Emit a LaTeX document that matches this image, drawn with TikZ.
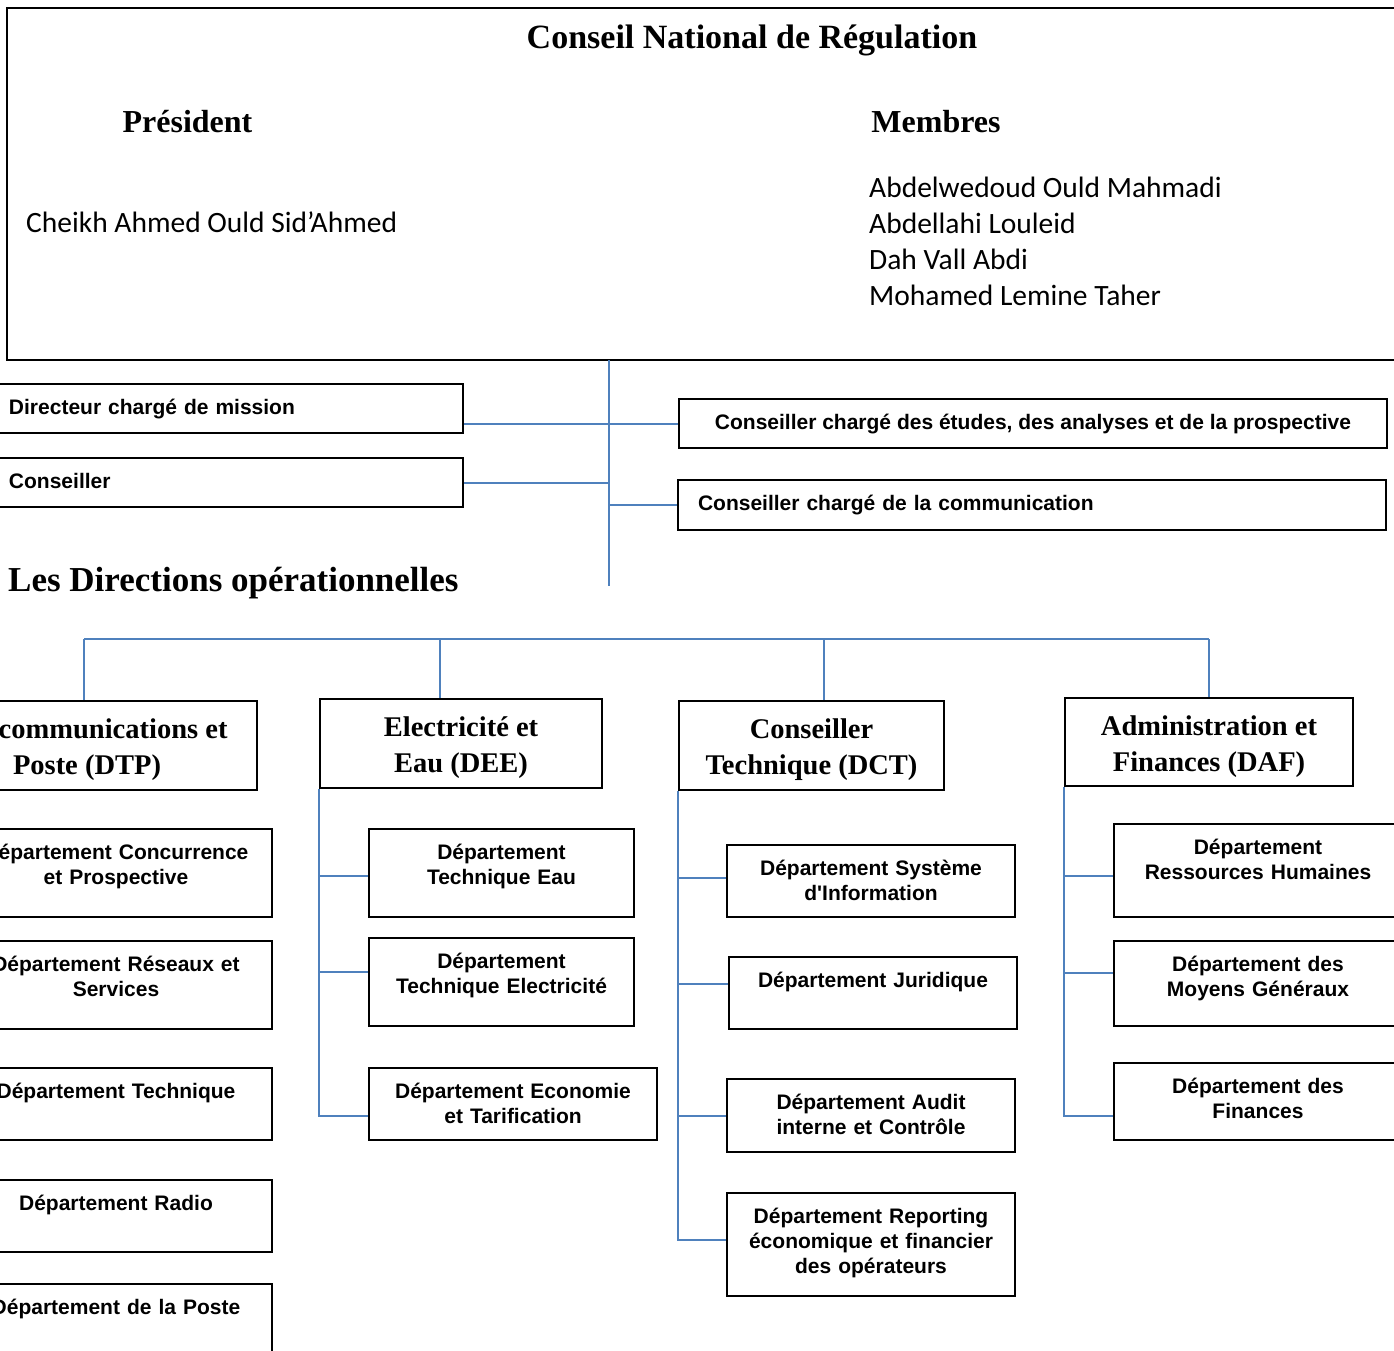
\documentclass[tikz,border=0pt]{standalone}
\usepackage{fontspec}
\setmainfont{Liberation Serif}
\newfontfamily\arialfont{Liberation Sans}
\newfontfamily\calibrifont{Carlito}
\definecolor{linkblue}{RGB}{79,129,189}

\begin{document}
\begin{tikzpicture}[x=1pt,y=-1pt,
  frame/.style={draw,line width=2pt,inner sep=0pt},
  link/.style={draw=linkblue,line width=2pt},
  head/.style={font=\bfseries\fontsize{34}{40}\selectfont,inner sep=0pt},
  names/.style={font=\calibrifont\fontsize{29.5}{36}\selectfont,inner sep=0pt,align=left},
  side/.style={draw,line width=2pt,font=\arialfont\bfseries\fontsize{21}{25}\selectfont,anchor=north west,minimum height=49pt,inner ysep=0pt,text height=15.5pt,text depth=4.5pt},
  dir/.style={draw,line width=2pt,font=\bfseries\fontsize{28.5}{36}\selectfont,align=center,inner sep=0pt,text height=62pt,text depth=4pt},
  dept/.style={draw,line width=2pt,font=\arialfont\bfseries\fontsize{21}{25}\selectfont,align=center,anchor=north west,inner xsep=4pt,inner ysep=7pt,text height=23pt}]
  \useasboundingbox (0,0) rectangle (1394,1350);
  \clip (0,0) rectangle (1394,1350);

  %Conseil
  \node[frame,anchor=north west,minimum width=1400pt,minimum height=352pt] (conseil) at (6,7) {};
  \node[head] (titre) at (752,40) {Conseil National de Régulation};
  \node[head,font=\bfseries\fontsize{32}{40}\selectfont] (pres) at (187.5,122) {Président};
  \node[head,font=\bfseries\fontsize{32}{40}\selectfont] (membres) at (936,122) {Membres};
  \node[names,anchor=west] (cheikh) at (26,222) {Cheikh Ahmed Ould Sid’Ahmed};
  \node[names,anchor=west] (liste) at (869,241) {Abdelwedoud Ould Mahmadi\\Abdellahi Louleid\\Dah Vall Abdi\\Mohamed Lemine Taher};

  %Conseillers
  \coordinate (haut) at (609,360);
  \coordinate (bas) at (609,586);
  \draw[link] (haut) -- (bas);
  \node[side,text width=441pt,inner xsep=13pt,align=left] (dcm) at (-5,383) {Directeur chargé de mission};
  \node[side,text width=441pt,inner xsep=13pt,align=left] (cons) at (-5,457) {Conseiller};
  \node[side,minimum width=708pt,align=center] (ccea) at (678,398) {Conseiller chargé des études, des analyses et de la prospective};
  \node[side,text width=668pt,inner xsep=20pt,align=left,minimum height=50pt] (ccom) at (677,479) {Conseiller chargé de la communication};
  \draw[link] (dcm.east |- ccea.west) -- (ccea.west);
  \draw[link] (cons.east) -- (cons.east -| haut);
  \draw[link] (haut |- ccom.west) -- (ccom.west);

  %Directions
  \node[head,anchor=west,font=\bfseries\fontsize{35}{40}\selectfont] (ldo) at (8,583) {Les Directions opérationnelles};
  \node[dir,minimum width=340pt,minimum height=89pt] (dtp) at (87,745.5) {Télécommunications et\\Poste (DTP)};
  \node[dir,minimum width=282pt,minimum height=89pt] (dee) at (461,743.5) {Electricité et\\Eau (DEE)};
  \node[dir,minimum width=265pt,minimum height=89pt] (dct) at (811.5,745.5) {Conseiller\\Technique (DCT)};
  \node[dir,minimum width=288pt,minimum height=88pt] (daf) at (1209,742) {Administration et\\Finances (DAF)};
  \coordinate (b1) at (84,639);
  \coordinate (b2) at (440,639);
  \coordinate (b3) at (824,639);
  \coordinate (b4) at (1209,639);
  \draw[link] (b1) -- (b4);
  \foreach \b/\d in {b1/dtp,b2/dee,b3/dct,b4/daf}
    \draw[link] (\b) -- (\b |- \d.north);

  %DTP
  \node[dept,text width=304pt,text depth=51pt] (dconc) at (-41,828) {Département Concurrence\\et Prospective};
  \node[dept,text width=304pt,text depth=51pt] (dres) at (-41,940) {Département Réseaux et\\Services};
  \node[dept,text width=304pt,text depth=35pt] (dtech) at (-41,1067) {Département Technique};
  \node[dept,text width=304pt,text depth=35pt] (dradio) at (-41,1179) {Département Radio};
  \node[dept,text width=304pt,text depth=53pt] (dposte) at (-41,1283) {Département de la Poste};

  %DEE
  \node[dept,text width=257pt,text depth=51pt] (deau) at (368,828) {Département\\Technique Eau};
  \node[dept,text width=257pt,text depth=51pt] (delec) at (368,937) {Département\\Technique Electricité};
  \node[dept,text width=280pt,text depth=35pt] (deco) at (368,1067) {Département Economie\\et Tarification};
  \foreach \d/\s in {deau/-3,delec/10,deco/-12}
    \draw[link] (dee.south west) |- ([yshift=\s pt]\d.west);

  %DCT
  \node[dept,text width=280pt,text depth=35pt] (dsys) at (726,844) {Département Système\\d'Information};
  \node[dept,text width=280pt,text depth=35pt] (djur) at (728,956) {Département Juridique};
  \node[dept,text width=280pt,text depth=36pt] (daud) at (726,1078) {Département Audit\\interne et Contrôle};
  \node[dept,text width=280pt,text depth=66pt] (drep) at (726,1192) {Département Reporting\\économique et financier\\des opérateurs};
  \foreach \d/\s in {dsys/3,djur/9,daud/0,drep/5}
    \draw[link] (dct.south west) |- ([yshift=\s pt]\d.west);

  %DAF
  \node[dept,text width=280pt,text depth=56pt] (drh) at (1113,823) {Département\\Ressources Humaines};
  \node[dept,text width=280pt,text depth=48pt] (dmoy) at (1113,940) {Département des\\Moyens Généraux};
  \node[dept,text width=280pt,text depth=40pt] (dfin) at (1113,1062) {Département des\\Finances};
  \foreach \d/\s in {drh/-5,dmoy/11,dfin/-14}
    \draw[link] (daf.south west) |- ([yshift=\s pt]\d.west);
\end{tikzpicture}
\end{document}
